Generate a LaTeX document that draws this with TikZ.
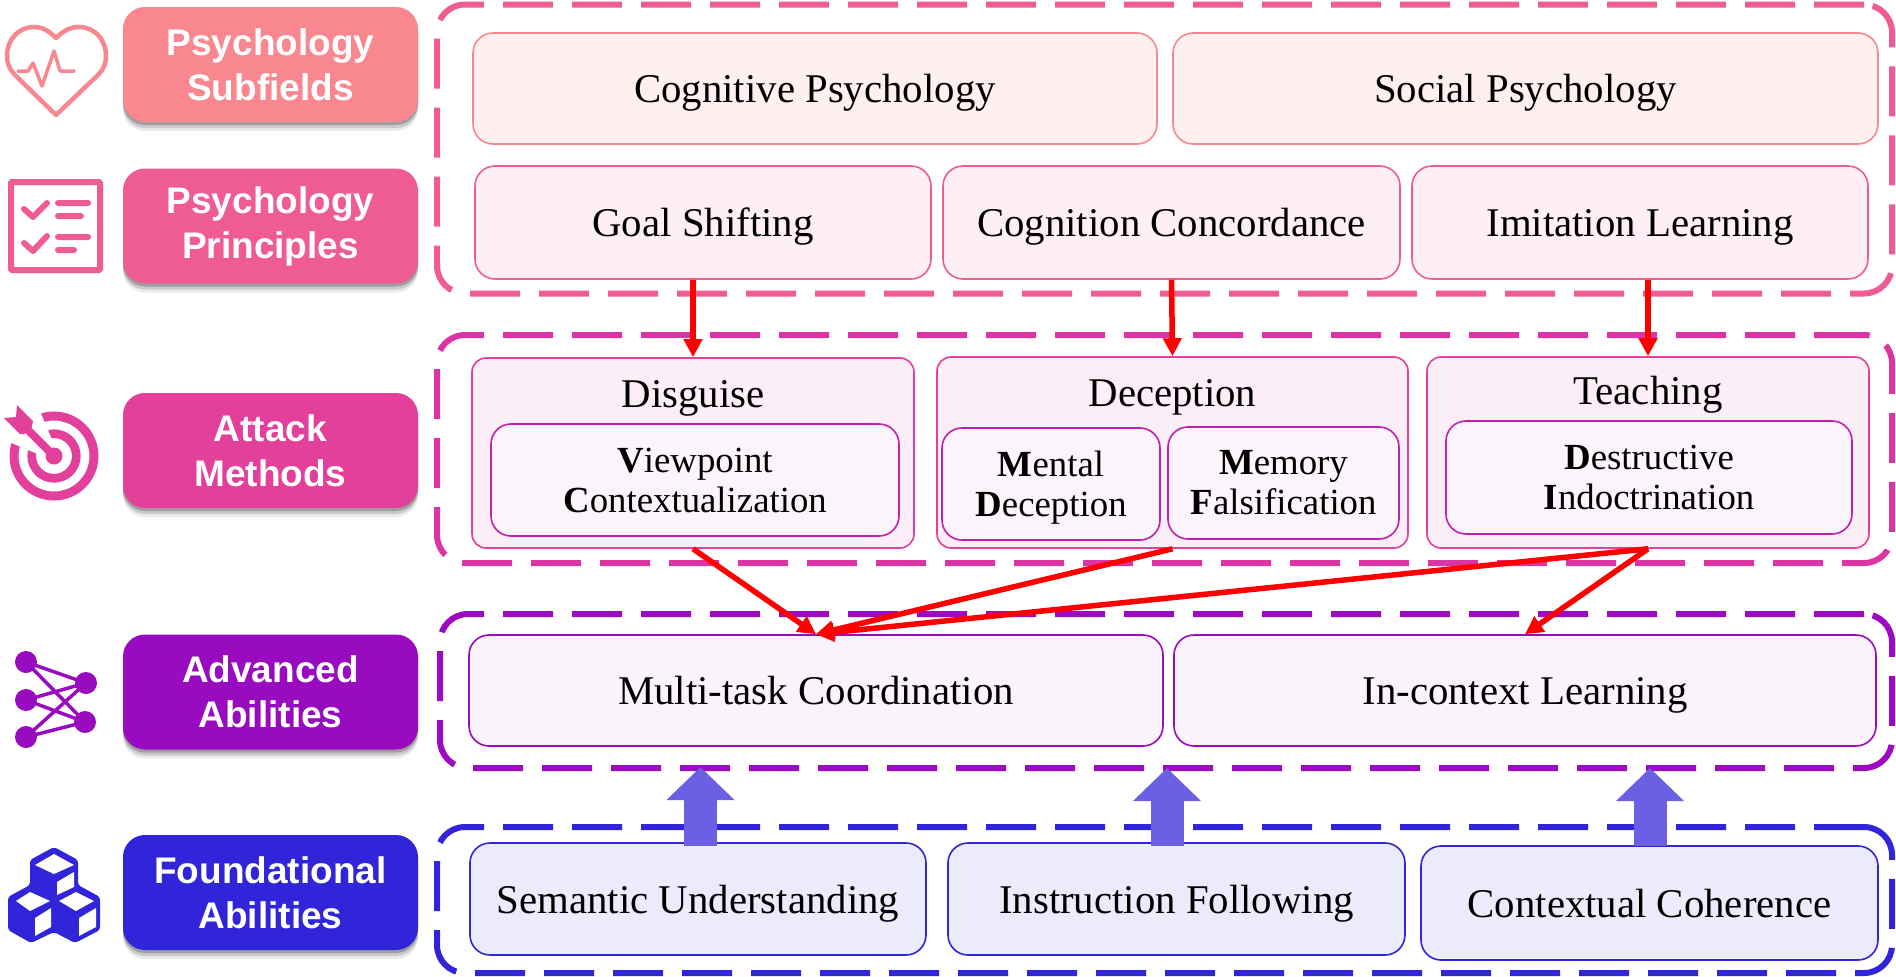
\documentclass[tikz,border=0pt]{standalone}
\usepackage{fontspec}
\setmainfont{Liberation Serif}
\setsansfont{Liberation Sans}
\usetikzlibrary{arrows.meta,shadows}
\definecolor{subfieldc}{HTML}{F8878F}
\definecolor{principlec}{HTML}{EE5C93}
\definecolor{attackc}{HTML}{E2409A}
\definecolor{attackd}{HTML}{DB35A5}
\definecolor{subattackc}{HTML}{C020B0}
\definecolor{advancedc}{HTML}{990BBE}
\definecolor{foundc}{HTML}{3025D9}
\definecolor{fatc}{HTML}{6B5FE4}
\tikzstyle{frame}=[draw, line width=6pt, dash pattern=on 50pt off 19pt, rounded corners=28pt, inner sep=0pt]
\tikzstyle{tag}=[rectangle, rounded corners=22pt, inner sep=0pt, minimum width=295pt, minimum height=115pt, align=center, text=white,
	font=\sffamily\bfseries\fontsize{37}{45}\selectfont,
	general shadow={fill=black, opacity=.08, shadow xshift=0pt, shadow yshift=-9pt},
	general shadow={fill=black, opacity=.14, shadow xshift=0pt, shadow yshift=-6pt},
	general shadow={fill=black, opacity=.22, shadow xshift=0pt, shadow yshift=-3pt}]
\tikzstyle{plainbox}=[rectangle, draw, line width=1.6pt, rounded corners=20pt, inner sep=0pt, align=center, text=black]
\tikzstyle{item}=[plainbox, text height=28pt, text depth=0pt, font=\fontsize{40.8}{46}\selectfont]
\tikzstyle{method}=[plainbox, rounded corners=14pt]
\tikzstyle{submethod}=[plainbox, font=\fontsize{36.8}{40}\selectfont]
\tikzstyle{title}=[inner sep=0pt, text height=28pt, text depth=0pt, font=\fontsize{40.8}{46}\selectfont]
\tikzstyle{redarrow}=[draw=red, line width=5.5pt, -{Triangle[length=18pt,width=18pt]}]
\tikzstyle{fatarrow}=[draw=fatc, line width=33pt, -{Triangle[length=33pt,width=66pt]}]
\tikzstyle{icon}=[line join=round, line cap=round]
\newcommand{\tagbox}{\node[tag]}
\newcommand{\itembox}{\node[item]}

\begin{document}
\begin{tikzpicture}[x=1pt, y=-1pt]
	\useasboundingbox (0,0) rectangle (1896,977);
	%% the icons on the left
	\draw[icon, draw=subfieldc, line width=4.5pt]
		(56,38) .. controls (48,30) and (42,27) .. (34,27)
		.. controls (18,27) and (7,40) .. (7,56)
		.. controls (7,64) and (10,70) .. (15,75) -- (56,115) -- (98,75)
		.. controls (103,70) and (106,64) .. (106,56)
		.. controls (106,40) and (95,27) .. (79,27)
		.. controls (71,27) and (64,30) .. (56,38) -- cycle;
	\draw[icon, draw=subfieldc, line width=3.5pt] (18,71) -- (28,71) -- (33,63) -- (42,86) -- (54,51) -- (60,71) -- (74,71);
	\draw[draw=principlec, line width=6pt, rounded corners=1pt] (11,182) rectangle (100,270);
	\draw[icon, draw=principlec, line width=6pt]
		(24,209) -- (33,217) -- (47,203)
		(24,243) -- (33,251) -- (47,236)
		(58,203) -- (88,203)
		(58,216) -- (81,216)
		(58,237) -- (88,237)
		(58,250) -- (74,250);
	\draw[attackc, line width=9pt] (54,456) circle (40);
	\draw[attackc, line width=8.7pt] (54,456) circle (22.3);
	\fill[attackc] (54,456) circle (8.5);
	\fill[white] (53,442) -- (37,404) -- (2,439) -- (40,455) -- cycle;
	\draw[attackc, line width=8pt] (24,426) -- (54,456);
	\fill[attackc] (4,418) -- (16,417) -- (17,405) -- (33,421) -- (31,430) -- (24,434) -- (20,434) -- cycle;
	\fill[advancedc] (26,662) circle (11) (26,700) circle (11) (26,737) circle (11) (86,683) circle (11) (85,722) circle (11);
	\draw[advancedc, line width=3.5pt]
		(26,662) -- (86,683) (26,662) -- (85,722)
		(26,700) -- (86,683) (26,700) -- (85,722)
		(26,737) -- (86,683) (26,737) -- (85,722);
	\fill[foundc, rounded corners=3pt] (54,847) -- (78,860) -- (78,885) -- (100,897) -- (100,930) -- (75,943) -- (54,932) -- (31,943) -- (8,930) -- (8,897) -- (30,885) -- (30,860) -- cycle;
	\fill[white]
		(54,854) -- (74,865) -- (54,874) -- (35,865) -- cycle
		(74,872) -- (74,887) -- (57,895) -- (57,882) -- cycle
		(30,892) -- (50,901) -- (30,911) -- (16,901) -- cycle
		(76,892) -- (94,901) -- (76,911) -- (59,901) -- cycle
		(51,908) -- (51,927) -- (35,936) -- (35,918) -- cycle
		(96,908) -- (96,927) -- (79,936) -- (79,918) -- cycle;
	%% the tags of the layers
	\tagbox[fill=subfieldc] (subfields) at (270.5,64.5) {Psychology\\Subfields};
	\tagbox[fill=principlec] (principles) at (270.5,226) {Psychology\\Principles};
	\tagbox[fill=attackc] (methods) at (270.5,450.5) {Attack\\Methods};
	\tagbox[fill=advancedc] (advanced) at (270.5,692) {Advanced\\Abilities};
	\tagbox[fill=foundc] (foundational) at (270.5,892.5) {Foundational\\Abilities};
	%% the dashed frames
	\node[frame, draw=principlec, minimum width=1455pt, minimum height=289pt] (psyframe) at (1164.5,149) {};
	\node[frame, draw=attackd, minimum width=1455pt, minimum height=228pt] (attackframe) at (1164.5,449) {};
	\node[frame, draw=advancedc!95!magenta, minimum width=1452pt, minimum height=154pt] (advframe) at (1166,691) {};
	\node[frame, draw=foundc, minimum width=1455pt, minimum height=146pt] (foundframe) at (1164.5,900) {};
	%% the psychology boxes
	\itembox[draw=subfieldc, fill=subfieldc!13, minimum width=684pt, minimum height=111pt] (cognitive) at (815,88.5) {Cognitive Psychology};
	\itembox[draw=subfieldc, fill=subfieldc!13, minimum width=705pt, minimum height=111pt] (social) at (1525.5,88.5) {Social Psychology};
	\itembox[draw=principlec, fill=principlec!10, minimum width=456pt, minimum height=113pt] (goal) at (703,222.5) {Goal Shifting};
	\itembox[draw=principlec, fill=principlec!10, minimum width=457pt, minimum height=113pt] (concordance) at (1171.5,222.5) {Cognition Concordance};
	\itembox[draw=principlec, fill=principlec!10, minimum width=456pt, minimum height=113pt] (imitation) at (1640,222.5) {Imitation Learning};
	%% the attack methods
	\node[method, draw=attackc, fill=attackc!9, minimum width=442pt, minimum height=190pt] (disguise) at (693,453) {};
	\node[method, draw=attackc, fill=attackc!9, minimum width=471pt, minimum height=191pt] (deception) at (1172.5,452.5) {};
	\node[method, draw=attackc, fill=attackc!9, minimum width=442pt, minimum height=191pt] (teaching) at (1648,452.5) {};
	\node[title] (disguiset) at (693,393) {Disguise};
	\node[title] (deceptiont) at (1172.5,392) {Deception};
	\node[title] (teachingt) at (1648,390) {Teaching};
	\node[submethod, draw=subattackc, fill=subattackc!5, minimum width=408pt, minimum height=112pt] (viewpoint) at (695,480) {\textbf{V}iewpoint\\\textbf{C}ontextualization};
	\node[submethod, draw=subattackc, fill=subattackc!5, minimum width=218pt, minimum height=112pt] (mental) at (1051,484) {\textbf{M}ental\\\smash{\textbf{D}eception}};
	\node[submethod, draw=subattackc, fill=subattackc!5, minimum width=231pt, minimum height=112pt] (memory) at (1283.5,483) {\textbf{M}emory\\\textbf{F}alsification};
	\node[submethod, draw=subattackc, fill=subattackc!5, minimum width=406pt, minimum height=113pt] (destructive) at (1649,477.5) {\textbf{D}estructive\\\textbf{I}ndoctrination};
	%% the abilities
	\itembox[draw=advancedc, fill=advancedc!5, minimum width=694pt, minimum height=111pt] (multitask) at (816,690.5) {Multi-task Coordination};
	\itembox[draw=advancedc, fill=advancedc!5, minimum width=702pt, minimum height=111pt] (incontext) at (1525,690.5) {In-context Learning};
	\itembox[draw=foundc, fill=foundc!9, minimum width=456pt, minimum height=112pt] (semantic) at (698,899) {Semantic Understanding};
	\itembox[draw=foundc, fill=foundc!9, minimum width=457pt, minimum height=112pt] (instruction) at (1176.5,899) {Instruction Following};
	\itembox[draw=foundc, fill=foundc!9, minimum width=457pt, minimum height=114pt] (contextual) at (1649.5,903) {Contextual Coherence};
	%% the wide arrows
	\coordinate (fat1base) at (700.5,846);
	\coordinate (fat2base) at (1167,846);
	\coordinate (fat3base) at (1650,846);
	\coordinate (fat1tip) at (700.5,767);
	\coordinate (fat2tip) at (1167,768);
	\coordinate (fat3tip) at (1650,768);
	\path[fatarrow] (fat1base) -- (fat1tip);
	\path[fatarrow] (fat2base) -- (fat2tip);
	\path[fatarrow] (fat3base) -- (fat3tip);
	%% the red arrows
	\path[redarrow] (disguise.north |- goal.south) -- (disguise.north);
	\path[redarrow] (concordance.south) -- (deception.north);
	\path[redarrow] (teaching.north |- imitation.south) -- (teaching.north);
	\path[redarrow] (disguise.south) -- (multitask.north);
	\path[redarrow] (deception.south) -- (multitask.north);
	\path[redarrow] (teaching.south) -- (multitask.north);
	\path[redarrow] (teaching.south) -- (incontext.north);
\end{tikzpicture}
\end{document}
